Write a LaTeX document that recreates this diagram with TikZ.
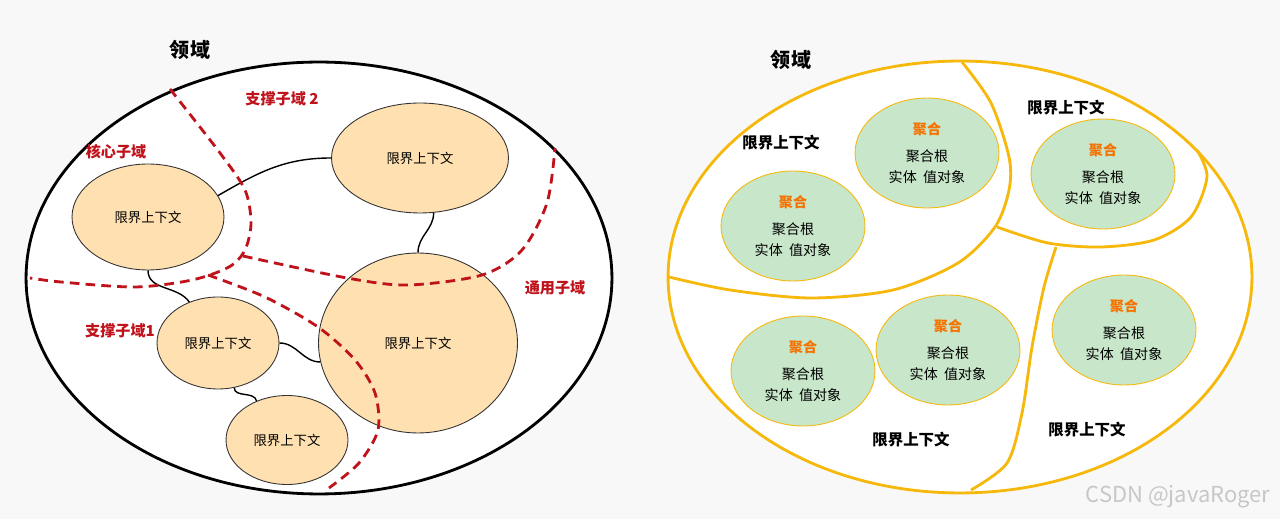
\documentclass[tikz,border=0pt]{standalone}
\usepackage{fontspec}
\setmainfont{Noto Sans CJK SC}
\usepackage{tikz}
\usetikzlibrary{shapes.geometric}
\definecolor{bgGray}{HTML}{F8F8F8}
\definecolor{subRed}{HTML}{C0121B}
\definecolor{bcFill}{HTML}{FFE0B0}
\definecolor{aggFill}{HTML}{C8E6C9}
\definecolor{aggOrange}{HTML}{F57200}
\definecolor{ctxYellow}{HTML}{F6B80A}

\begin{document}
\begin{tikzpicture}[x=0.02cm, y=-0.02cm,
	domainbox/.style={draw, ellipse, fill=white, inner sep=0pt, line width=1.6pt},
	bc/.style={draw=black!80, ellipse, fill=bcFill, inner sep=0pt, line width=0.5pt, font=\fontsize{7.6}{9}\selectfont},
	agg/.style={draw=ctxYellow, ellipse, fill=aggFill, inner sep=0pt, line width=0.5pt, minimum width=2.88cm, minimum height=2.2cm, align=center, font=\fontsize{8}{12}\selectfont},
	sub/.style={text=subRed, font=\fontsize{8.6}{10}\selectfont\bfseries},
	ctx/.style={font=\fontsize{8.8}{10}\selectfont\bfseries},
	title/.style={font=\fontsize{11.4}{13}\selectfont\bfseries},
	border/.style={subRed, line width=1.6pt, dash pattern=on 5.5pt off 3.5pt},
	split/.style={ctxYellow, line width=1.6pt},
	link/.style={line width=0.8pt}]
	\fill[bgGray] (0,0) rectangle (1280,519);
	\useasboundingbox (0,0) rectangle (1280,519);

	\node[title] (titleL) at (190,50) {领域};
	\node[domainbox, minimum width=11.72cm, minimum height=8.64cm] (domL) at (319,278) {};
	\node[bc, minimum width=3.04cm, minimum height=2.12cm] (bcCore) at (148,217) {限界上下文};
	\node[bc, minimum width=3.54cm, minimum height=2.2cm] (bcTop) at (420,158) {限界上下文};
	\node[bc, minimum width=3.98cm, minimum height=3.6cm] (bcBig) at (418,343) {限界上下文};
	\node[bc, minimum width=2.44cm, minimum height=1.84cm] (bcMid) at (218,343) {限界上下文};
	\node[bc, minimum width=2.44cm, minimum height=1.78cm] (bcLow) at (287,440) {限界上下文};
	\draw[link] (bcCore.17) to[out=30, in=180] (bcTop.west);
	\draw[link] (bcTop.-76) to[out=-90, in=90] (bcBig.north);
	\draw[link] (bcCore.south) to[out=-90, in=125] (bcMid.125);
	\draw[link] (bcMid.east) to[out=0, in=180] (bcBig.191);
	\draw[link] (bcMid.-70) to[out=-90, in=100] (bcLow.128);
	\draw[border] plot[smooth] coordinates {(170,89) (220,153) (245,190) (251,223) (245,250) (229,267) (192,280) (135,287) (61,282) (30,278)};
	\draw[border] plot[smooth] coordinates {(243,256) (347,278) (408,285) (482,275) (522,250) (547,203) (555,148)};
	\draw[border] plot[smooth] coordinates {(208,275) (265,297) (318,327) (355,360) (375,393) (378,430) (359,463) (329,488)};
	\node[sub] (subTwo) at (282,99) {支撑子域 2};
	\node[sub] (subCore) at (116,152) {核心子域};
	\node[sub] (subOne) at (120,331) {支撑子域1};
	\node[sub] (subGen) at (555,288) {通用子域};

	\node[title] (titleR) at (791,60) {领域};
	\node[domainbox, draw=ctxYellow, minimum width=11.68cm, minimum height=8.64cm] (domR) at (960,277) {};
	\draw[split] plot[smooth] coordinates {(962,62) (991,103) (1009,157) (1009,190) (995,227) (958,263) (893,290) (811,298) (730,290) (669,277)};
	\draw[split] plot[smooth] coordinates {(997,227) (1048,243) (1101,247) (1154,240) (1191,217) (1207,177) (1197,150)};
	\draw[split] plot[smooth] coordinates {(1056,247) (1044,287) (1032,347) (1022,413) (1007,463) (971,490)};
	\node[agg] (aggA) at (793,226) {\textcolor{aggOrange}{\bfseries 聚合}\\[3pt]聚合根\\实体\ \ 值对象};
	\node[agg] (aggB) at (927,153) {\textcolor{aggOrange}{\bfseries 聚合}\\[3pt]聚合根\\实体\ \ 值对象};
	\node[agg] (aggC) at (1103,174) {\textcolor{aggOrange}{\bfseries 聚合}\\[3pt]聚合根\\实体\ \ 值对象};
	\node[agg] (aggD) at (803,371) {\textcolor{aggOrange}{\bfseries 聚合}\\[3pt]聚合根\\实体\ \ 值对象};
	\node[agg] (aggE) at (948,350) {\textcolor{aggOrange}{\bfseries 聚合}\\[3pt]聚合根\\实体\ \ 值对象};
	\node[agg] (aggF) at (1124,330) {\textcolor{aggOrange}{\bfseries 聚合}\\[3pt]聚合根\\实体\ \ 值对象};
	\node[ctx] (ctxA) at (781,143) {限界上下文};
	\node[ctx] (ctxB) at (1066,108) {限界上下文};
	\node[ctx] (ctxC) at (911,440) {限界上下文};
	\node[ctx] (ctxD) at (1087,430) {限界上下文};
	\node[text=black!22, font=\fontsize{12.5}{14}\selectfont] (mark) at (1178,497) {CSDN @javaRoger};
\end{tikzpicture}
\end{document}
